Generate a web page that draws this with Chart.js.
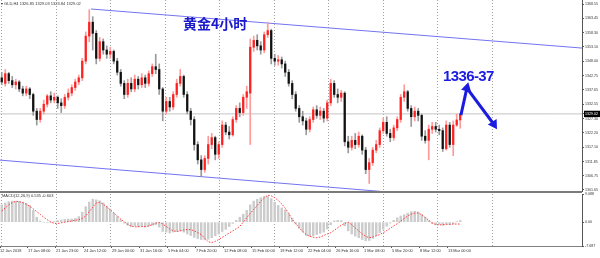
<!DOCTYPE html>
<html>
<head>
<meta charset="utf-8">
<title>黄金4小时</title>
<script src="https://cdn.jsdelivr.net/npm/chart.js@4.4.1/dist/chart.umd.min.js"></script>
<style>
    html, body { margin: 0; padding: 0; background: #fff; }
    #wrap { position: relative; width: 600px; height: 258px; overflow: hidden; font-family: 'Liberation Sans', Arial, sans-serif; }
    #mainChart { position: absolute; left: 0; top: 0; }
    #macdChart { position: absolute; left: 0; top: 188px; }
    #sep { position: absolute; left: 0; top: 191px; width: 582px; height: 2px; background: #7a7a7a; z-index: 3; }
    .note { position: absolute; white-space: nowrap; z-index: 4; line-height: 1; }
    #title { left: 183px; top: 13px; font: bold 14px 'Noto Sans CJK SC', sans-serif; color: #1a1acc; }
    #target { left: 443px; top: 67px; font: bold 15px 'Liberation Sans', Arial, sans-serif; color: #1c1ce0; letter-spacing: -0.6px; }
    #info { left: 1px; top: 2px; font-size: 4px; color: #333; }
    #macdInfo { left: 2px; top: 194px; font-size: 4px; color: #333; }
</style>
</head>
<body>
<div id="wrap">
    <canvas id="mainChart" width="600" height="192"></canvas>
    <canvas id="macdChart" width="600" height="70"></canvas>
    <div id="sep"></div>
    <div class="note" id="info">▾ GLD,H4 1326.85 1329.03 1323.84 1329.02</div>
    <div class="note" id="macdInfo">MACD(12,26,9) 0.535 -0.603</div>
    <div class="note" id="title">黄金4小时</div>
    <div class="note" id="target">1336-37</div>
</div>
<script>
// -------------------------
// data (one candle = 8 hours)
// -------------------------
const CANDLE_OPEN = [
    1342, 1340, 1343.5, 1341, 1339.5, 1340.5, 1338, 1336.5, 1338, 1336,
    1330, 1327, 1330, 1332.5, 1335.5, 1334, 1335, 1333, 1332, 1335,
    1336.5, 1338.5, 1340.5, 1342, 1348, 1357, 1362, 1358, 1349, 1355,
    1352, 1350.5, 1351.5, 1348, 1344, 1340, 1336, 1340, 1338, 1341.5,
    1339.5, 1342, 1340, 1343.5, 1346, 1345, 1338, 1330, 1333.5, 1331.5,
    1336, 1340, 1342.5, 1336, 1330, 1327, 1318, 1312.5, 1309, 1313,
    1318, 1320.5, 1314.5, 1318, 1325, 1322.5, 1321.5, 1327, 1331, 1329.5,
    1335, 1336.5, 1353, 1355.5, 1353.5, 1352, 1357.5, 1359, 1349, 1348,
    1348.5, 1347, 1344, 1340, 1336, 1331, 1328, 1326.5, 1323.5, 1327,
    1330.5, 1328.5, 1330, 1327.5, 1333, 1340, 1336, 1335, 1336.5, 1319,
    1317, 1319.5, 1318, 1321, 1316, 1309, 1311.5, 1316, 1318, 1323,
    1326, 1322, 1320.5, 1324, 1327, 1335, 1337, 1331, 1328, 1330,
    1328.5, 1321, 1319.5, 1323.5, 1324.5, 1323.5, 1323, 1316.5, 1325, 1318,
    1325, 1326.85
];
const CANDLE_HIGH = [
    1344, 1345, 1344, 1342.5, 1341.5, 1341, 1339, 1339, 1338.5, 1336.5,
    1331, 1331, 1334, 1336, 1337, 1336.5, 1335.5, 1334.5, 1336, 1338,
    1339.5, 1341.5, 1343, 1349, 1358.5, 1366.5, 1364, 1359, 1356.5, 1356,
    1353.5, 1353, 1352, 1349, 1345, 1341, 1341.5, 1342, 1343, 1342.5,
    1343.5, 1343, 1344.5, 1347, 1350.5, 1347, 1338.5, 1335, 1335, 1337,
    1341.5, 1345, 1343, 1337, 1331, 1328, 1319, 1314, 1314, 1321,
    1322, 1321, 1319, 1326.5, 1326, 1324.5, 1328, 1332, 1333, 1336,
    1339, 1356, 1357, 1357.5, 1355, 1358.5, 1362, 1359.5, 1350.5, 1350,
    1349.5, 1348, 1345, 1341, 1337, 1332, 1330, 1327.5, 1328, 1331.5,
    1332, 1331.5, 1331, 1334, 1341.5, 1341, 1338, 1337.5, 1337, 1321,
    1321, 1322, 1322.5, 1321.5, 1317, 1313, 1317, 1319.5, 1324, 1327.5,
    1328, 1323.5, 1325, 1328, 1336, 1339.5, 1337.5, 1332, 1331.5, 1331,
    1329, 1323, 1325, 1326, 1326, 1325, 1324, 1326.5, 1326, 1326.5,
    1329, 1329.03
];
const CANDLE_LOW = [
    1339.5, 1339, 1340, 1338.5, 1338, 1337, 1335.5, 1335.5, 1334.5, 1328.5,
    1325, 1326, 1329, 1331.5, 1333, 1333, 1331, 1329.5, 1331, 1334,
    1335.5, 1337.5, 1339.5, 1341, 1347, 1355, 1352, 1347, 1348, 1350.5,
    1349, 1349, 1347, 1343, 1339, 1334.5, 1335, 1337, 1337, 1338,
    1338.5, 1338.5, 1339, 1342.5, 1343.5, 1336, 1326.5, 1329, 1330, 1330.5,
    1335, 1339, 1335, 1329, 1325, 1316, 1311, 1306.5, 1308, 1311,
    1316.5, 1312.5, 1313, 1317, 1321.5, 1320, 1321, 1326, 1328, 1328.5,
    1331, 1318, 1351.5, 1352, 1350.5, 1351, 1356.5, 1347, 1346.5, 1346.5,
    1345.5, 1342.5, 1339, 1334.5, 1330, 1326, 1325, 1321.5, 1322.5, 1326,
    1327.5, 1327, 1326, 1326.5, 1332, 1335, 1333, 1333.5, 1317.5, 1315,
    1316, 1316.5, 1317, 1314.5, 1307.5, 1304, 1310.5, 1315, 1317, 1322,
    1321, 1319, 1319.5, 1323, 1326, 1333.5, 1330, 1324.5, 1326.5, 1326.5,
    1319.5, 1318.5, 1312.5, 1322, 1322.5, 1321.5, 1315.5, 1316, 1317, 1314,
    1324.5, 1323.84
];
const CANDLE_CLOSE = [
    1340.5, 1343.5, 1341, 1339.5, 1340.5, 1338, 1336.5, 1338, 1336, 1330,
    1327, 1330, 1332.5, 1335.5, 1334, 1335, 1333, 1332, 1335, 1336.5,
    1338.5, 1340.5, 1342, 1348, 1357, 1362, 1358, 1349, 1355, 1352,
    1350.5, 1351.5, 1348, 1344, 1340, 1336, 1340, 1338, 1341.5, 1339.5,
    1342, 1340, 1343.5, 1346, 1345, 1338, 1330, 1333.5, 1331.5, 1336,
    1340, 1342.5, 1336, 1330, 1327, 1318, 1312.5, 1309, 1313, 1318,
    1320.5, 1314.5, 1318, 1325, 1322.5, 1321.5, 1327, 1331, 1329.5, 1335,
    1337, 1353, 1355.5, 1353.5, 1352, 1357.5, 1359, 1349, 1348, 1348.5,
    1347, 1344, 1340, 1336, 1331, 1328, 1326.5, 1323.5, 1327, 1330.5,
    1328.5, 1330, 1327.5, 1333, 1340, 1336, 1335, 1336.5, 1319, 1317,
    1319.5, 1318, 1321, 1316, 1309, 1311.5, 1316, 1318, 1323, 1326,
    1322, 1320.5, 1324, 1327, 1335, 1337, 1331, 1328, 1330, 1328.5,
    1321, 1319.5, 1323.5, 1324.5, 1323.5, 1323, 1316.5, 1325, 1318, 1325,
    1326.85, 1329.02
];

const MACD_HIST = [
    5.6, 6.2, 6.6, 6.8, 6.8, 6.7, 6.5, 6.1, 5.4, 3.8,
    1.6, 0.4, 0.0, -0.2, -0.1, 0.1, 0.5, 0.7, 0.9, 1.0,
    1.0, 1.2, 1.8, 3.2, 5.0, 6.5, 7.4, 7.2, 6.9, 6.2,
    5.2, 4.2, 3.0, 1.8, 0.8, -0.3, -1.0, -1.4, -1.2, -1.5,
    -1.3, -1.6, -1.3, -1.0, -0.8, -1.6, -3.0, -3.2, -3.5, -3.2,
    -3.0, -2.8, -3.2, -3.8, -4.3, -4.9, -5.3, -5.6, -5.7, -5.5,
    -5.0, -4.4, -3.8, -3.0, -2.3, -1.4, -0.4, 0.6, 1.6, 2.6,
    3.8, 5.6, 6.8, 7.4, 7.9, 8.3, 8.4, 7.6, 6.4, 5.4,
    4.6, 4.0, 2.8, 1.2, -0.6, -2.0, -3.2, -4.3, -4.6, -4.4,
    -4.0, -3.6, -3.2, -2.2, -0.8, 0.4, 0.6, 0.5, -1.2, -2.8,
    -3.8, -4.5, -5.0, -5.6, -6.0, -5.9, -5.2, -4.4, -3.4, -2.3,
    -1.3, -0.3, 0.6, 1.4, 2.0, 2.4, 2.9, 3.4, 3.5, 3.3,
    2.5, 1.6, 0.5, -0.5, -0.8, -0.7, -1.0, -0.6, -0.8, -0.5,
    0.1, 0.535
];
const MACD_SIGNAL = [
    3.6, 4.6, 5.6, 6.3, 6.7, 6.6, 6.3, 5.8, 5.1, 4.3,
    3.4, 2.5, 1.6, 0.8, 0.1, -0.4, -0.4, -0.2, 0.0, 0.2,
    0.4, 0.6, 0.8, 1.2, 2.0, 3.4, 4.8, 6.2, 6.4, 5.8,
    4.9, 4.0, 3.0, 2.0, 1.0, 0.1, -0.7, -1.3, -1.5, -1.5,
    -1.4, -1.4, -1.2, -0.8, -0.3, -0.1, -0.6, -1.4, -2.2, -2.8,
    -3.0, -2.8, -2.5, -2.4, -2.4, -2.8, -3.4, -4.0, -5.2, -6.3,
    -6.6, -6.2, -5.6, -4.9, -4.2, -3.5, -2.8, -2.1, -1.4, 0.0,
    1.4, 2.8, 4.1, 5.4, 6.7, 7.8, 8.7, 8.5, 7.9, 7.0,
    5.9, 4.5, 2.8, 0.9, -0.5, -1.8, -3.0, -4.0, -4.5, -4.9,
    -5.0, -4.8, -4.3, -3.8, -3.4, -2.6, -1.8, -1.0, -0.4, 0.0,
    -0.8, -1.9, -2.8, -3.8, -4.6, -5.0, -4.8, -4.4, -4.0, -3.4,
    -2.7, -2.0, -1.2, -0.5, 0.3, 1.2, 2.0, 2.6, 2.9, 3.0,
    2.4, 1.5, 0.6, -0.2, -0.8, -0.9, -0.8, -0.7, -0.7, -0.6,
    -0.6, -0.603
];

const X_LABELS = [
    '12 Jan 2018', '17 Jan 08:00', '21 Jan 23:00', '24 Jan 12:00', '29 Jan 00:00',
    '31 Jan 16:00', '5 Feb 04:00', '7 Feb 20:00', '12 Feb 08:00', '15 Feb 00:00',
    '19 Feb 12:00', '22 Feb 04:00', '26 Feb 16:00', '1 Mar 08:00', '5 Mar 20:00',
    '8 Mar 12:00', '13 Mar 00:00'
];
const PRICE_TICKS = [1368.55, 1363.45, 1358.30, 1353.10, 1348.00, 1342.75, 1337.65, 1332.55,
    1327.30, 1322.20, 1317.10, 1311.85, 1306.75, 1301.65];
const LAST_PRICE = 1329.02;
const MACD_TICKS = [9.088, 0, -7.687];
const MACD_TICK_LABELS = ['9.088', '0.00', '-7.687'];

// trend channel and forecast arrow (candle index / price)
const UPPER_LINE_X = [25.5, 165.8];
const UPPER_LINE_Y = [1366.75, 1352.7];
const LOWER_LINE_X = [-0.5, 165.8];
const LOWER_LINE_Y = [1312.4, 1295.2];
const ARROW_X = [131.2, 132.9, 140.6];
const ARROW_Y = [1328.6, 1338.3, 1325.3];

// -------------------------
// view settings
// -------------------------
const X_MIN = -0.5;
const X_MAX = 165.8;
const LABEL_STEP = 8;       // candles between time labels
const GRID_STEP = 15.57;    // candles between dotted grid lines
const GRID_COUNT = 10;

Chart.defaults.font.family = "'Liberation Sans', Arial, sans-serif";

function toPoints(xs, ys) {
    return xs.map((x, i) => ({ x: x, y: ys[i] }));
}

function setGridTicks(scale) {
    const ticks = [];
    for (let k = 0; k < GRID_COUNT; k++) ticks.push({ value: k * GRID_STEP });
    scale.ticks = ticks;
}

function gridAxis(position) {
    return {
        type: 'linear', position: position, min: X_MIN, max: X_MAX, offset: false,
        grid: { offset: false, color: '#a0a0a0', drawTicks: false, lineWidth: 1 },
        border: { display: false, dash: [1, 2] },
        ticks: { display: false },
        afterBuildTicks: setGridTicks,
        afterFit: (s) => { s.height = 0; s.paddingLeft = 0; s.paddingRight = 0; }
    };
}

const idx = CANDLE_OPEN.map((_, i) => i);
const isUp = (i) => CANDLE_CLOSE[i] >= CANDLE_OPEN[i];

// -------------------------
// price panel
// -------------------------
new Chart(document.getElementById('mainChart'), {
    type: 'bar',
    data: {
        datasets: [
            {
                type: 'line',
                data: toPoints([X_MIN, X_MAX], [LAST_PRICE, LAST_PRICE]),
                borderColor: '#c4c4c4', borderWidth: 1, pointRadius: 0, order: 10
            },
            {
                type: 'line',
                data: toPoints(UPPER_LINE_X, UPPER_LINE_Y),
                borderColor: '#7373f2', borderWidth: 1, pointRadius: 0, order: 6
            },
            {
                type: 'line',
                data: toPoints(LOWER_LINE_X, LOWER_LINE_Y),
                borderColor: '#7373f2', borderWidth: 1, pointRadius: 0, order: 6
            },
            {
                // wicks
                data: idx.map(i => ({ x: i, y: [CANDLE_LOW[i], CANDLE_HIGH[i]] })),
                backgroundColor: idx.map(i => isUp(i) ? '#ff9a9a' : '#9a9a9a'),
                barThickness: 1, grouped: false, order: 4
            },
            {
                // bodies
                data: idx.map(i => ({ x: i, y: [CANDLE_OPEN[i], CANDLE_CLOSE[i]] })),
                backgroundColor: idx.map(i => isUp(i) ? '#ff2020' : '#111111'),
                barThickness: 1.6, minBarLength: 1, grouped: false, order: 3
            },
            {
                type: 'line',
                data: toPoints(ARROW_X, ARROW_Y),
                borderColor: '#1c1ce0', borderWidth: 3, tension: 0,
                pointRadius: [0, 6, 6], pointStyle: 'triangle',
                pointRotation: [0, 14, 148],
                pointBackgroundColor: '#1c1ce0', pointBorderWidth: 0, order: 1,
                clip: false
            }
        ]
    },
    options: {
        responsive: false,
        animation: false,
        events: [],
        layout: { padding: 0, autoPadding: false },
        plugins: { legend: { display: false }, tooltip: { enabled: false } },
        scales: {
            x: gridAxis('bottom'),
            y: {
                position: 'right', min: 1300.93, max: 1369.99,
                grid: { drawOnChartArea: false, drawTicks: true, tickLength: 2, color: '#555' },
                border: { display: true, color: '#555' },
                ticks: {
                    autoSkip: false, padding: 1,
                    font: { size: 3.6 },
                    color: (ctx) => ctx.tick && ctx.tick.value === LAST_PRICE ? '#fff' : '#333',
                    showLabelBackdrop: (ctx) => !!ctx.tick && ctx.tick.value === LAST_PRICE,
                    backdropColor: '#000',
                    backdropPadding: { top: 1, bottom: 1, left: 1, right: 2 },
                    callback: (v) => Number(v).toFixed(2)
                },
                afterBuildTicks: (s) => {
                    s.ticks = PRICE_TICKS.concat([LAST_PRICE]).map(v => ({ value: v }));
                },
                afterFit: (s) => { s.width = 18; s.paddingTop = 0; s.paddingBottom = 0; }
            }
        }
    }
});

// -------------------------
// MACD panel
// -------------------------
new Chart(document.getElementById('macdChart'), {
    type: 'bar',
    data: {
        datasets: [
            {
                data: idx.map(i => ({ x: i, y: MACD_HIST[i] })),
                backgroundColor: '#cccccc',
                barThickness: 1.8, grouped: false, order: 2, xAxisID: 'x'
            },
            {
                type: 'line',
                data: idx.map(i => ({ x: i, y: MACD_SIGNAL[i] })),
                borderColor: '#ff3a3a', borderWidth: 1, borderDash: [1.5, 1.5],
                pointRadius: 0, order: 1, xAxisID: 'x'
            }
        ]
    },
    options: {
        responsive: false,
        animation: false,
        events: [],
        layout: { padding: { top: 6, left: 0, right: 0, bottom: 0 }, autoPadding: false },
        plugins: { legend: { display: false }, tooltip: { enabled: false } },
        scales: {
            x: {
                type: 'linear', position: 'bottom', min: X_MIN, max: X_MAX, offset: false,
                grid: { offset: false, drawOnChartArea: false, drawTicks: true, tickLength: 2, color: '#555' },
                border: { display: true, color: '#808080' },
                ticks: {
                    autoSkip: false, maxRotation: 0, align: 'start', padding: 1,
                    font: { size: 3.9 }, color: '#333',
                    callback: (v, k) => X_LABELS[k]
                },
                afterBuildTicks: (s) => {
                    s.ticks = X_LABELS.map((_, k) => ({ value: k * LABEL_STEP - 0.5 }));
                },
                afterFit: (s) => { s.height = 12; s.paddingLeft = 0; s.paddingRight = 0; }
            },
            xg: gridAxis('top'),
            y: {
                position: 'right', min: -7.687, max: 9.088,
                grid: { drawOnChartArea: false, drawTicks: true, tickLength: 2, color: '#555' },
                border: { display: true, color: '#555' },
                ticks: {
                    autoSkip: false, padding: 1, font: { size: 3.6 }, color: '#333',
                    callback: (v, k) => MACD_TICK_LABELS[k]
                },
                afterBuildTicks: (s) => { s.ticks = MACD_TICKS.map(v => ({ value: v })); },
                afterFit: (s) => { s.width = 18; s.paddingTop = 0; s.paddingBottom = 0; }
            }
        }
    }
});
</script>
</body>
</html>
